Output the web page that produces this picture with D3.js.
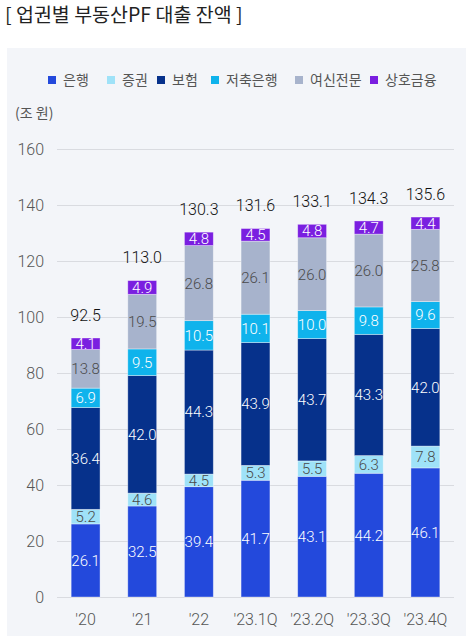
<!DOCTYPE html>
<html>
<head>
<meta charset="utf-8">
<script src="https://cdn.jsdelivr.net/npm/d3@7"></script>
<style>
  body { margin: 0; background: #fff; font-family: "Noto Sans CJK KR", "Noto Sans", sans-serif; }
  svg { display: block; }
  .num { font-family: Roboto, "Noto Sans CJK KR", sans-serif; font-weight: 300; }
</style>
</head>
<body>
<svg id="chart"></svg>
<script>
const categories = ["'20", "'21", "'22", "'23.1Q", "'23.2Q", "'23.3Q", "'23.4Q"];
const seriesNames = ["은행", "증권", "보험", "저축은행", "여신전문", "상호금융"];
const bank = [26.1, 32.5, 39.4, 41.7, 43.1, 44.2, 46.1];
const securities = [5.2, 4.6, 4.5, 5.3, 5.5, 6.3, 7.8];
const insurance = [36.4, 42.0, 44.3, 43.9, 43.7, 43.3, 42.0];
const savingsBank = [6.9, 9.5, 10.5, 10.1, 10.0, 9.8, 9.6];
const creditFinance = [13.8, 19.5, 26.8, 26.1, 26.0, 26.0, 25.8];
const mutualFinance = [4.1, 4.9, 4.8, 4.5, 4.8, 4.7, 4.4];
const totals = [92.5, 113.0, 130.3, 131.6, 133.1, 134.3, 135.6];
const yTicks = [0, 20, 40, 60, 80, 100, 120, 140, 160];

const colors = ["#2349dc", "#9fe2f8", "#06318b", "#0fb3ec", "#a7b3cc", "#7a1fe0"];
const labelColors = ["#fff", "#4a4a4a", "#fff", "#fff", "#4a4a4a", "#fff"];

const width = 466, height = 642;
const margin = {top: 149, right: 12, bottom: 45, left: 57};

const svg = d3.select('#chart')
  .attr('width', width)
  .attr('height', height);

svg.append('text')
  .attr('x', 5)
  .attr('y', 22)
  .attr('font-size', 19.5)
  .attr('font-weight', 400)
  .attr('fill', '#222')
  .text('[ 업권별 부동산PF 대출 잔액 ]');

// panel
svg.append('rect')
  .attr('x', 7).attr('y', 48)
  .attr('width', width - 7).attr('height', 588)
  .attr('fill', '#f3f5f9');

const table = categories.map((c, i) => ({
  cat: c,
  '은행': bank[i],
  '증권': securities[i],
  '보험': insurance[i],
  '저축은행': savingsBank[i],
  '여신전문': creditFinance[i],
  '상호금융': mutualFinance[i],
  total: totals[i]
}));

const x = d3.scaleBand()
  .domain(categories)
  .range([margin.left, width - margin.right])
  .paddingInner(0.49)
  .paddingOuter(0.25);

const y = d3.scaleLinear()
  .domain([0, 160])
  .range([height - margin.bottom, margin.top]);

// grid + y labels
const yAxis = svg.append('g')
  .attr('transform', `translate(${margin.left},0)`)
  .call(d3.axisLeft(y).tickValues(yTicks).tickSize(-(width - margin.right - margin.left)).tickPadding(13));
yAxis.select('.domain').remove();
yAxis.selectAll('.tick line').attr('stroke', '#d9dbe0').attr('stroke-width', 1);
yAxis.selectAll('.tick text')
  .attr('class', 'num')
  .attr('font-size', 16)
  .attr('fill', '#555');

svg.append('text')
  .attr('x', 15).attr('y', 118)
  .attr('font-size', 14)
  .attr('fill', '#555')
  .text('(조 원)');

// x labels
const xAxis = svg.append('g')
  .attr('transform', `translate(0,${height - margin.bottom})`)
  .call(d3.axisBottom(x).tickSize(0).tickPadding(17));
xAxis.select('.domain').remove();
xAxis.selectAll('.tick text')
  .attr('class', 'num')
  .attr('font-size', 16)
  .attr('fill', '#555');

const stack = d3.stack().keys(seriesNames)(table);

const layers = svg.append('g')
  .selectAll('g')
  .data(stack)
  .join('g')
    .attr('fill', (d, i) => colors[i]);

layers.selectAll('rect')
  .data(d => d)
  .join('rect')
    .attr('x', d => x(d.data.cat))
    .attr('width', x.bandwidth())
    .attr('y', d => y(d[1]))
    .attr('height', d => y(d[0]) - y(d[1]))
    .attr('stroke', 'rgba(255,255,255,0.45)')
    .attr('stroke-width', 0.8);

layers.each(function(layer, i) {
  d3.select(this).selectAll('text')
    .data(layer)
    .join('text')
      .attr('class', 'num')
      .attr('x', d => x(d.data.cat) + x.bandwidth() / 2)
      .attr('y', d => (y(d[0]) + y(d[1])) / 2)
      .attr('dy', '0.36em')
      .attr('text-anchor', 'middle')
      .attr('font-size', 15)
      .attr('fill', labelColors[i])
      .text(d => (d[1] - d[0]).toFixed(1));
});

// totals
svg.append('g')
  .selectAll('text')
  .data(table)
  .join('text')
    .attr('class', 'num')
    .attr('x', d => x(d.cat) + x.bandwidth() / 2)
    .attr('y', d => y(d.total) - 23)
    .attr('dy', '0.36em')
    .attr('text-anchor', 'middle')
    .attr('font-size', 16)
    .attr('fill', '#111')
    .text(d => d.total.toFixed(1));

// legend
const legendX = [48, 107, 157, 211, 295, 370];
const legend = svg.append('g')
  .selectAll('g')
  .data(seriesNames)
  .join('g')
    .attr('transform', (d, i) => `translate(${legendX[i]},80)`);
legend.append('rect')
  .attr('x', 0).attr('y', -4)
  .attr('width', 8).attr('height', 8)
  .attr('fill', (d, i) => colors[i]);
legend.append('text')
  .attr('x', 15)
  .attr('dy', '0.36em')
  .attr('font-size', 14)
  .attr('fill', '#555')
  .text(d => d);
</script>
</body>
</html>
